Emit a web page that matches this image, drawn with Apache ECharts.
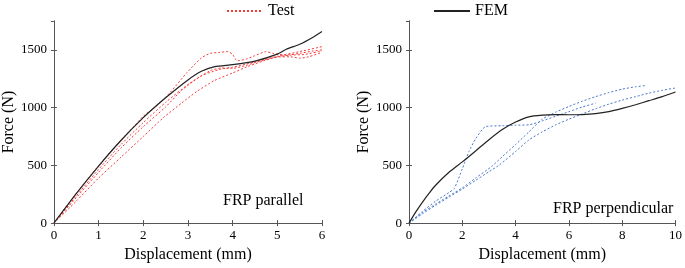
<!DOCTYPE html>
<html lang="en">
<head>
    <meta charset="UTF-8">
    <title>chart</title>
    <script src="https://cdn.jsdelivr.net/npm/echarts@6/dist/echarts.min.js"></script>
    <style>
        html, body {
            margin: 0;
            height: 100%;
        }
        #app {
            width: 685px;
            height: 268px;
        }
    </style>
</head>
<body>
<div id="app"></div>
<script>
    // FRP parallel (left), displacement mm / force N
    var femParallel = [[0,0],[0.5,255],[1,494],[1.5,715],[2,913],[2.5,1085],[3,1240],[3.3,1315],[3.6,1355],[4,1372],[4.5,1403],[5,1463],[5.2,1505],[5.5,1548],[5.8,1610],[6,1659]];
    var testParA = [[0,0],[0.5,258],[1,497],[1.5,718],[1.8,842],[2,925],[2.3,1015],[2.6,1130],[2.97,1300],[3.3,1430],[3.5,1470],[3.7,1478],[3.9,1485],[4,1460],[4.1,1405],[4.3,1420],[4.5,1450],[4.75,1485],[4.9,1470],[5.2,1455],[5.5,1470],[5.8,1490],[6,1500]];
    var testParB = [[0,0],[0.5,235],[1,465],[1.5,680],[2,870],[2.5,1045],[3,1200],[3.5,1320],[3.75,1343],[4,1340],[4.3,1365],[4.7,1415],[5,1445],[5.5,1485],[6,1528]];
    var testParC = [[0,0],[0.5,190],[1,390],[1.5,570],[2,750],[2.45,913],[2.86,1040],[3.2,1140],[3.59,1234],[4,1300],[4.33,1355],[4.7,1405],[5,1438],[5.3,1440],[5.5,1428],[5.7,1440],[6,1478]];
    var testParD = [[0,0],[0.5,220],[1,440],[1.5,650],[2,835],[2.5,1005],[2.86,1150],[3.3,1275],[3.7,1330],[4,1350],[4.5,1395],[5,1440],[5.3,1455],[5.6,1460],[6,1490]];

    // FRP perpendicular (right)
    var femPerp = [[0,0],[0.25,95],[0.5,180],[0.75,258],[1,328],[1.5,440],[2,530],[2.5,625],[3,722],[3.5,810],[4,875],[4.5,920],[5,935],[5.5,940],[6,938],[6.5,940],[7,948],[7.5,965],[8,993],[8.5,1025],[9,1060],[9.5,1095],[10,1135]];
    var testPerpA = [[0,0],[0.5,100],[1,190],[1.5,265],[1.7,300],[2,470],[2.25,620],[2.5,730],[2.87,835],[3.5,843],[4,848],[4.53,852],[5,885],[5.5,925],[6,965],[6.5,1005],[7,1038]];
    var testPerpB = [[0,0],[0.5,90],[1,165],[1.5,235],[2,305],[2.5,390],[3.1,490],[3.5,575],[4,680],[4.5,790],[5,900],[5.5,960],[6,1010],[6.5,1055],[7,1095],[7.5,1130],[8,1160],[8.5,1180],[8.9,1192]];
    var testPerpC = [[0,0],[0.5,80],[1,155],[1.5,225],[2,295],[2.5,370],[3,445],[3.4,505],[4,620],[4.5,720],[5,790],[5.5,850],[6,900],[6.5,945],[7,990],[7.5,1030],[8,1065],[8.5,1095],[9,1125],[9.5,1150],[10,1170]];

    var xMaxLeft = 6, xIntLeft = 1;
    var xMaxRight = 10, xIntRight = 2;
    var yMax = 1750, yInt = 500;

    var font = 'Liberation Serif';
    var axisColor = '#555';

    function plain(v) { return String(v); }

    var tickLabel = {fontFamily: font, fontSize: 13, color: '#000', margin: 7, formatter: plain};

    function mainX(grid, max, interval) {
        return {
            gridIndex: grid, type: 'value', min: 0, max: max, interval: interval,
            name: 'Displacement (mm)', nameLocation: 'middle', nameGap: 22,
            nameTextStyle: {fontFamily: font, fontSize: 16, color: '#000'},
            axisLine: {lineStyle: {color: axisColor}},
            axisTick: {inside: true, length: 3, lineStyle: {color: axisColor}},
            axisLabel: Object.assign({}, tickLabel, {margin: 6}),
            splitLine: {show: false}
        };
    }
    function topX(grid, max, interval) {
        return {
            gridIndex: grid, type: 'value', position: 'top', min: 0, max: max, interval: interval,
            axisLine: {lineStyle: {color: axisColor}},
            axisTick: {inside: true, length: 3, lineStyle: {color: axisColor}},
            axisLabel: {show: false}, splitLine: {show: false}
        };
    }
    function mainY(grid) {
        return {
            gridIndex: grid, type: 'value', min: 0, max: yMax, interval: yInt,
            name: 'Force (N)', nameLocation: 'middle', nameGap: 35,
            nameTextStyle: {fontFamily: font, fontSize: 16, color: '#000'},
            axisLine: {show: true, lineStyle: {color: axisColor}},
            axisTick: {show: true, inside: true, length: 3, lineStyle: {color: axisColor}},
            axisLabel: Object.assign({}, tickLabel, {showMaxLabel: false}),
            splitLine: {show: false}
        };
    }
    function rightY(grid) {
        return {
            gridIndex: grid, type: 'value', position: 'right', min: 0, max: yMax, interval: yInt,
            axisLine: {show: true, lineStyle: {color: axisColor}},
            axisTick: {show: true, inside: true, length: 3, lineStyle: {color: axisColor}},
            axisLabel: {show: false}, splitLine: {show: false}
        };
    }

    function testLine(data, color, xi, yi) {
        return {
            name: 'Test', type: 'line', data: data, xAxisIndex: xi, yAxisIndex: yi,
            showSymbol: false, symbol: 'none', smooth: 0.2,
            lineStyle: {color: color, width: 1, type: [2, 2]},
            itemStyle: {color: color},
            animation: false
        };
    }
    function femLine(data, xi, yi) {
        return {
            name: 'FEM', type: 'line', data: data, xAxisIndex: xi, yAxisIndex: yi,
            showSymbol: false, symbol: 'none', smooth: 0.2,
            lineStyle: {color: '#222', width: 1.2},
            itemStyle: {color: '#222'},
            animation: false
        };
    }

    var red = '#f23c3c';
    var blue = '#4a78cc';

    var legendText = {fontFamily: font, fontSize: 16, color: '#000'};

    var option = {
        animation: false,
        textStyle: {fontFamily: font},
        legend: [
            {data: ['Test'], left: 221, top: -2, itemWidth: 36, itemHeight: 14, itemGap: 0,
                itemStyle: {opacity: 0}, textStyle: legendText},
            {data: ['FEM'], left: 428, top: -2, itemWidth: 36, itemHeight: 14, itemGap: 0,
                itemStyle: {opacity: 0}, textStyle: legendText}
        ],
        grid: [
            {left: 51, right: 363, top: 21, bottom: 39},
            {left: 409, right: 5, top: 21, bottom: 39}
        ],
        xAxis: [mainX(0, xMaxLeft, xIntLeft), topX(0, xMaxLeft, xIntLeft), mainX(1, xMaxRight, xIntRight), topX(1, xMaxRight, xIntRight)],
        yAxis: [mainY(0), rightY(0), mainY(1), rightY(1)],
        graphic: [
            {type: 'text', left: 223, top: 193, style: {text: 'FRP parallel', fontFamily: font, fontSize: 16, fill: '#000'}},
            {type: 'text', left: 553, top: 201, style: {text: 'FRP perpendicular', fontFamily: font, fontSize: 16, fill: '#000'}}
        ],
        series: [
            testLine(testParA, red, 0, 0),
            testLine(testParB, red, 0, 0),
            testLine(testParC, red, 0, 0),
            testLine(testParD, red, 0, 0),
            femLine(femParallel, 0, 0),
            testLine(testPerpA, blue, 2, 2),
            testLine(testPerpB, blue, 2, 2),
            testLine(testPerpC, blue, 2, 2),
            femLine(femPerp, 2, 2)
        ]
    };

    var myChart = echarts.init(document.getElementById('app'));
    myChart.setOption(option);
</script>
</body>
</html>
